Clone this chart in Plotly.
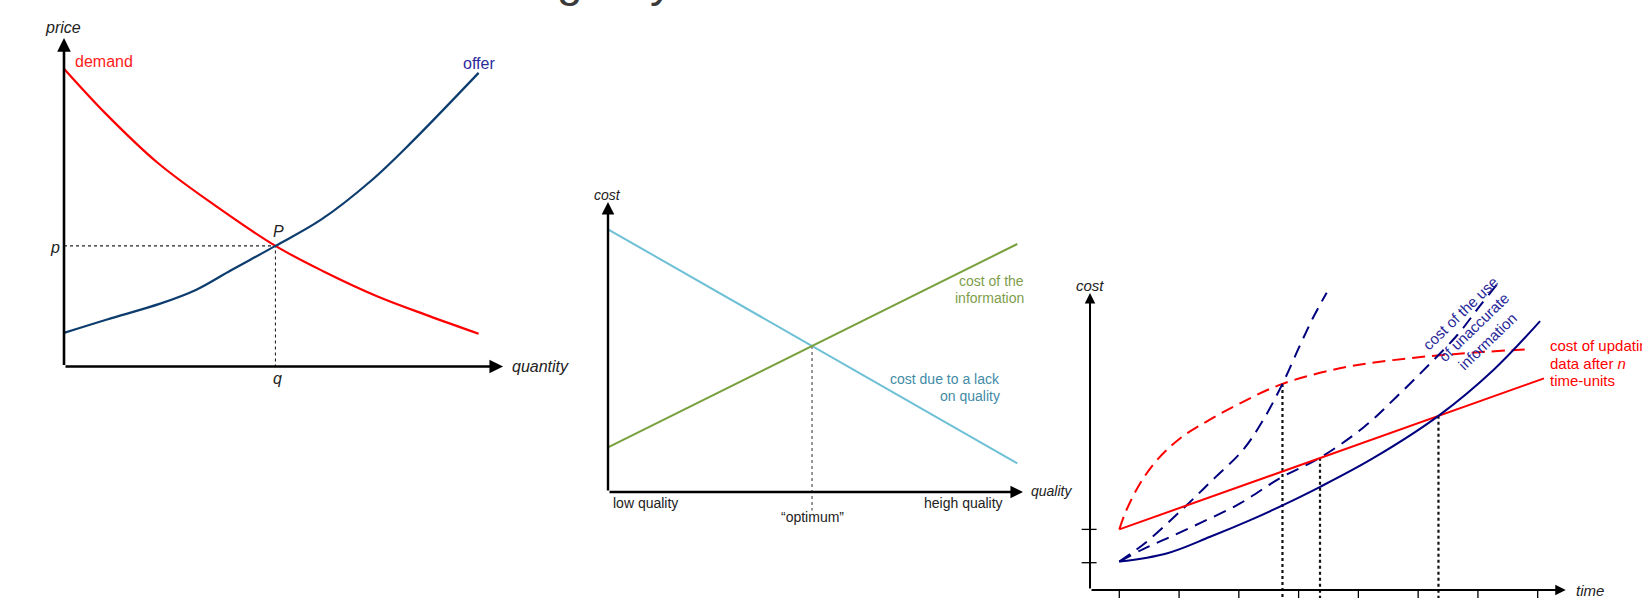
import plotly.graph_objects as go

W, H = 1642, 598
FONT = "Liberation Sans, Arial, sans-serif"

# ---------------- data: chart 1 (supply / demand) ----------------
demand_q = [0, 1.0, 2.25, 3.65, 5.1, 6.25, 7.55, 8.8, 10]
demand_p = [10, 8.5, 6.85, 5.4, 4.05, 3.2, 2.36, 1.7, 1.1]
offer_q = [0, 1.04, 2.32, 3.18, 4.04, 5.1, 6.2, 7.4, 8.36, 10]
offer_p = [1.13, 1.58, 2.11, 2.57, 3.24, 4.05, 4.93, 6.23, 7.5, 9.86]
equil_q, equil_p = 5.1, 4.05

# ---------------- data: chart 2 (cost vs quality) ----------------
quality_pts = [0, 10]
cost_lack_quality = [10, 1.09]
cost_information = [1.70, 9.44]
optimum_q, optimum_c = 4.985, 5.56

# ---------------- data: chart 3 (cost over time) ----------------
time_ticks = [0, 1, 2, 3, 4, 5, 6, 7]
cost_ticks = [1.0, 2.22]
upd_solid_t = [0, 7.105]
upd_solid_c = [2.22, 7.75]
upd_dash_t = [0, 0.12, 0.35, 0.63, 1.02, 1.46, 2.02, 2.73, 3.69, 4.58, 5.59, 6.84]
upd_dash_c = [2.22, 2.93, 3.91, 4.76, 5.56, 6.17, 6.84, 7.55, 8.12, 8.42, 8.64, 8.82]
use_solid_t = [0, 0.79, 1.52, 2.19, 2.73, 3.36, 4.24, 5.34, 6.26, 7.04]
use_solid_c = [1.04, 1.34, 1.95, 2.56, 3.1, 3.78, 4.82, 6.38, 8.06, 9.85]
use_mid_t = [0, 0.4, 0.79, 1.35, 2.02, 2.69, 3.355, 4.1, 4.64, 5.18, 5.66, 6.03, 6.34]
use_mid_c = [1.04, 1.5, 1.88, 2.45, 3.17, 4.1, 4.84, 5.98, 7.08, 8.25, 9.35, 10.4, 11.25]
use_steep_t = [0, 0.46, 1.07, 1.57, 2.07, 2.4, 2.73, 3.02, 3.25, 3.47]
use_steep_c = [1.04, 1.77, 2.99, 4.05, 5.13, 6.2, 7.55, 8.95, 10.01, 10.89]
cross_t = [2.73, 3.358, 5.34]
cross_c = [7.55, 4.84, 6.38]


def px(x):
    return x / W


def py(y):
    return 1 - y / H


def axpair(x0, x1, ox, sx, oy, sy):
    xa = dict(domain=[x0 / W, x1 / W], range=[(x0 - ox) / sx, (x1 - ox) / sx], visible=False, fixedrange=True)
    ya = dict(domain=[0, 1], range=[(oy - H) / sy, oy / sy], visible=False, fixedrange=True)
    return xa, ya


xa1, ya1 = axpair(0, 590, 64, 41.46, 366.5, 29.78)
xa2, ya2 = axpair(590, 1075, 608, 40.93, 492, 26.27)
xa3, ya3 = axpair(1075, 1642, 1119.3, 59.77, 590, 27.3)
ya2["anchor"] = "x2"; xa2["anchor"] = "y2"
ya3["anchor"] = "x3"; xa3["anchor"] = "y3"

fig = go.Figure()


def line(x, y, ax, color, width, dash=None, shape="linear"):
    fig.add_trace(go.Scatter(
        x=x, y=y, mode="lines", xaxis=ax[0], yaxis=ax[1], hoverinfo="skip",
        line=dict(color=color, width=width, dash=dash, shape=shape), showlegend=False))


A1, A2, A3 = ("x", "y"), ("x2", "y2"), ("x3", "y3")

# chart 1
line([0, equil_q, equil_q], [equil_p, equil_p, 0], A1, "#222222", 1.1, "dot")
line(demand_q, demand_p, A1, "#ff0000", 2.2, shape="spline")
line(offer_q, offer_p, A1, "#0d3d6e", 2.2, shape="spline")

# chart 2
line([optimum_q, optimum_q], [optimum_c, -0.7], A2, "#444444", 1.1, "dot")
line(quality_pts, cost_lack_quality, A2, "#6ec0d6", 2)
line(quality_pts, cost_information, A2, "#78a03c", 2)

# chart 3
tx, ty = [], []
for t in time_ticks:
    tx += [t, t, None]
    ty += [0, -0.6, None]
line(tx, ty, A3, "#000000", 1.3)
cx, cy = [], []
for c in cost_ticks:
    cx += [-0.63, -0.38, None]
    cy += [c, c, None]
line(cx, cy, A3, "#000000", 1.3)
for t, c in zip(cross_t, cross_c):
    line([t, t], [c, -0.6], A3, "#111111", 2.2, "dot")
line(upd_dash_t, upd_dash_c, A3, "#ff0000", 2, "13px,7px", "spline")
line(use_steep_t, use_steep_c, A3, "#00007f", 2, "13px,8px", "spline")
line(use_mid_t, use_mid_c, A3, "#00007f", 2, "13px,8px", "spline")
line(upd_solid_t, upd_solid_c, A3, "#ff0000", 2)
line(use_solid_t, use_solid_c, A3, "#00007f", 2, shape="spline")

ann = []


def arrow(x, y, axr, ox, oy, w):
    ann.append(dict(x=x, y=y, ax=ox, ay=oy, xref=axr[0], yref=axr[1], axref=axr[0], ayref=axr[1],
                    text="", showarrow=True, arrowhead=2, arrowsize=1.05, arrowwidth=w, arrowcolor="#000000"))


arrow(10.59, 0, A1, 0, 0, 2.6)
arrow(0, 11.03, A1, 0, 0, 2.6)
arrow(10.14, 0, A2, 0, 0, 2.4)
arrow(0, 11.04, A2, 0, 0, 2.4)
arrow(7.47, 0, A3, -0.49, 0, 2.0)
arrow(-0.49, 10.88, A3, -0.49, 0, 2.0)


def label(text, x, y, size, color, xanchor="center", angle=0):
    ann.append(dict(text=text, x=px(x), y=py(y), xref="paper", yref="paper", showarrow=False,
                    xanchor=xanchor, yanchor="middle", textangle=angle,
                    font=dict(family=FONT, size=size, color=color)))


# chart 1 labels
label("<i>price</i>", 63, 28, 16, "#222222")
label("demand", 73, 61, 16, "#ff1a1a", "left")
label("offer", 479, 63, 16, "#2b2b9b")
label("<i>P</i>", 278, 231, 16, "#222222")
label("<i>p</i>", 55, 247, 16, "#222222")
label("<i>q</i>", 277, 378, 16, "#222222")
label("<i>quantity</i>", 510, 366, 16, "#222222", "left")

# chart 2 labels
label("<i>cost</i>", 607, 195, 14, "#222222")
label("<i>quality</i>", 1029, 491, 14, "#222222", "left")
label("low quality", 611, 503, 14, "#222222", "left")
label("heigh quality", 1005, 503, 14, "#222222", "right")
label("“optimum”", 812, 517, 14, "#222222")
label("cost of the", 1026, 281, 14, "#7e9e4c", "right")
label("information", 1026, 298, 14, "#7e9e4c", "right")
label("cost due to a lack", 1002, 379, 14, "#3f8ba6", "right")
label("on quality", 1002, 396, 14, "#3f8ba6", "right")

# chart 3 labels
label("<i>cost</i>", 1090, 285, 15, "#222222")
label("<i>time</i>", 1574, 590, 15, "#222222", "left")
label("cost of updating", 1548, 346, 15, "#ff0000", "left")
label("data after <i>n</i>", 1548, 363, 15, "#ff0000", "left")
label("time-units", 1548, 380, 15, "#ff0000", "left")
label("cost of the use<br>of unaccurate<br>information", 1474, 327, 15, "#27279a", "center", -44)

# cut-off slide title fragments at the very top
for ch, x in (("g", 570), ("y", 661)):
    ann.append(dict(text=ch, x=px(x), y=py(7.5), xref="paper", yref="paper", showarrow=False,
                    xanchor="center", yanchor="bottom",
                    font=dict(family=FONT, size=46, color="#3a3a3a")))

fig.update_layout(
    width=W, height=H, margin=dict(l=0, r=0, t=0, b=0),
    paper_bgcolor="white", plot_bgcolor="rgba(0,0,0,0)",
    xaxis=xa1, yaxis=ya1, xaxis2=xa2, yaxis2=ya2, xaxis3=xa3, yaxis3=ya3,
    annotations=ann, showlegend=False,
)

fig.write_html("out.html", config={"displayModeBar": False},
               post_script="document.body.style.margin='0px';document.body.style.overflow='hidden';")
